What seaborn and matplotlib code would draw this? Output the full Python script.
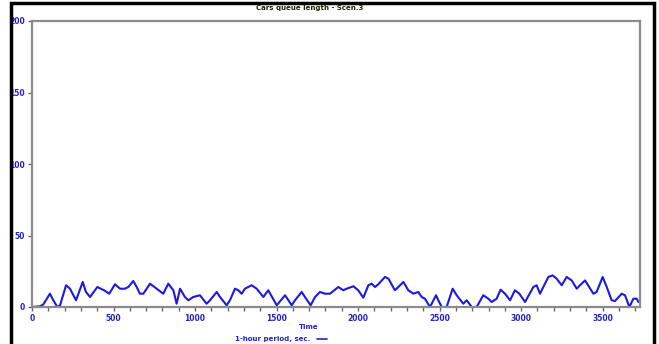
import numpy as np
import pandas as pd
import matplotlib
matplotlib.use("Agg")
import matplotlib.pyplot as plt
import seaborn as sns
from matplotlib.patches import Rectangle
from matplotlib.lines import Line2D
from matplotlib.ticker import MultipleLocator

# values (time in sec, queue length in cars)
time_sec = [0, 49, 70, 110, 131, 155, 172, 209, 233, 270, 311, 331, 356, 401, 421,
            442, 458, 474, 509, 540, 570, 591, 621, 642, 662, 683, 724, 765, 805, 836,
            867, 887, 908, 938, 959, 989, 1030, 1071, 1092, 1133, 1153, 1194, 1214, 1245,
            1265, 1286, 1306, 1347, 1378, 1419, 1449, 1501, 1552, 1593, 1613, 1654, 1674,
            1709, 1736, 1766, 1797, 1828, 1879, 1909, 1930, 1971, 2001, 2032, 2063, 2083,
            2104, 2124, 2165, 2186, 2226, 2257, 2278, 2308, 2339, 2369, 2390, 2410, 2441,
            2478, 2492, 2513, 2543, 2580, 2605, 2645, 2666, 2697, 2727, 2768, 2799, 2819,
            2850, 2874, 2901, 2932, 2962, 2989, 3024, 3075, 3095, 3116, 3136, 3167, 3193,
            3218, 3249, 3279, 3310, 3341, 3361, 3392, 3443, 3463, 3500, 3525, 3555, 3576,
            3617, 3637, 3664, 3688, 3709, 3719]
queue_len = [0, 0.5, 1.9, 9.3, 4.7, 0, 1.2, 15.2, 12.8, 4.7, 17.5, 10.5, 7.0, 14.0, 12.8,
             11.7, 10.5, 9.3, 15.9, 12.8, 12.8, 14.0, 18.2, 14.0, 9.3, 9.3, 16.3, 12.8, 9.3, 16.3,
             11.7, 2.3, 12.8, 7.0, 4.7, 7.0, 8.2, 2.3, 4.7, 10.5, 7.0, 1.2, 4.7, 12.8,
             11.7, 9.3, 12.8, 15.2, 12.8, 7.0, 11.7, 1.2, 8.2, 1.2, 4.7, 10.5, 7.0,
             1.2, 7.0, 10.5, 9.3, 9.3, 14.0, 11.7, 12.8, 14.5, 11.7, 6.5, 15.2, 16.3,
             14.0, 15.9, 21.0, 19.8, 11.7, 15.2, 17.5, 11.7, 9.3, 10.5, 7.0, 5.8, 0,
             8.2, 4.7, 0, 0, 12.8, 8.2, 2.3, 4.7, 0, 0, 8.2, 5.8, 3.5,
             5.8, 12.1, 9.3, 4.7, 11.7, 9.3, 3.5, 14.0, 15.2, 9.3, 14.0, 21.0, 22.1,
             19.8, 15.2, 21.0, 18.6, 12.8, 15.2, 18.6, 9.3, 10.5, 21.0, 14.0, 4.7, 4.2,
             9.3, 8.2, 0, 5.8, 5.8, 3.5]
y_ticks = [0, 50, 100, 150, 200]
x_ticks = [0, 500, 1000, 1500, 2000, 2500, 3000, 3500]

df = pd.DataFrame({"Time": time_sec, "Queue": queue_len})

sns.set_style("white")
plt.rcParams["font.family"] = ["DejaVu Sans"]

blue = "#2222cc"
fig = plt.figure(figsize=(6.59, 3.44), dpi=100)
ax = fig.add_axes([32/659, 1-307/344, (640-32)/659, (307-21)/344])

sns.lineplot(data=df, x="Time", y="Queue", ax=ax, color="#1a1ae0", linewidth=1.5)

ax.set_xlim(0, 3729)
ax.set_ylim(0, 200)
ax.set_xticks(x_ticks)
ax.set_yticks(y_ticks)
ax.xaxis.set_minor_locator(MultipleLocator(100))
ax.set_xlabel("")
ax.set_ylabel("")
for s in ax.spines.values():
    s.set_color("#8c8c8c")
    s.set_linewidth(1.6)
ax.tick_params(axis="both", which="both", direction="out", colors="#666666",
               labelcolor=blue, labelsize=5.5, width=1, length=3, pad=2, bottom=True, left=True)
for lab in ax.get_xticklabels() + ax.get_yticklabels():
    lab.set_fontweight("bold")

fig.text(310/659, 1-8/344, "Cars queue length - Scen.3", ha="center", va="center",
         fontsize=5, fontweight="bold", color="#222200")
fig.text(309/659, 1-327/344, "Time", ha="center", va="center",
         fontsize=5, fontweight="bold", color=blue)
fig.text(310/659, 1-339/344, "1-hour period, sec.", ha="right", va="center",
         fontsize=5, fontweight="bold", color=blue)
fig.add_artist(Line2D([317/659, 327/659], [1-339/344, 1-339/344], color=blue, lw=1.2))

# outer black frame
fig.add_artist(Rectangle((11/659, -0.05), (654-11)/659, 1.05-3/344, transform=fig.transFigure,
                         fill=False, edgecolor="black", linewidth=2.5))

fig.savefig("out.png", dpi=100)
